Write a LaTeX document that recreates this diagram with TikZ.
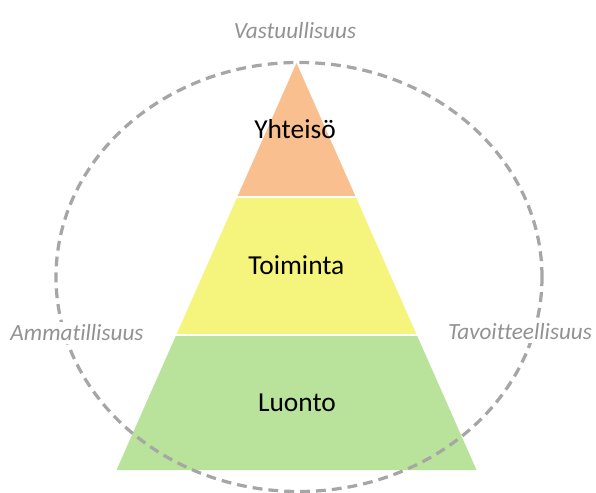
\documentclass[tikz,border=0pt]{standalone}
\usepackage{fontspec}
\setmainfont{Carlito}[Ligatures=NoCommon]
\definecolor{yhteisoorange}{HTML}{FABF8F}
\definecolor{toimintayellow}{HTML}{F5F57E}
\definecolor{luontogreen}{HTML}{B9E39A}
\definecolor{ringgray}{HTML}{A6A6A6}
\definecolor{sidegray}{HTML}{929292}

\begin{document}
\begin{tikzpicture}[
    ringline/.style={draw=ringgray,line width=2.3pt,dash pattern=on 7pt off 4.3pt},
    levellabel/.style={anchor=base,inner sep=0,font=\levelfontsize},
    sidelabel/.style={anchor=base,inner sep=2pt,fill=white,text=sidegray,font=\sidefontsize\itshape}]
    \pgfmathsetmacro{\pyrcenter}{7.4125}
    \pgfmathsetmacro{\pyrbase}{0.55}
    \pgfmathsetmacro{\pyrtop}{10.725}
    \pgfmathsetmacro{\pyrhalfwidth}{4.5}
    \pgfmathsetmacro{\firstcut}{3.925}
    \pgfmathsetmacro{\secondcut}{7.375}
    \pgfmathsetmacro{\firsthalf}{\pyrhalfwidth*(\pyrtop-\firstcut)/(\pyrtop-\pyrbase)}
    \pgfmathsetmacro{\secondhalf}{\pyrhalfwidth*(\pyrtop-\secondcut)/(\pyrtop-\pyrbase)}
    \providecommand{\levelfontsize}{\fontsize{19.5pt}{23pt}\selectfont}
    \providecommand{\sidefontsize}{\fontsize{16.5pt}{20pt}\selectfont}
    \useasboundingbox (0,0) rectangle (14.9,12.3);
    % pyramid layers
    \fill[luontogreen] (\pyrcenter-\pyrhalfwidth,\pyrbase) -- (\pyrcenter+\pyrhalfwidth,\pyrbase) -- (\pyrcenter+\firsthalf,\firstcut) -- (\pyrcenter-\firsthalf,\firstcut) -- cycle;
    \fill[toimintayellow] (\pyrcenter-\firsthalf,\firstcut) -- (\pyrcenter+\firsthalf,\firstcut) -- (\pyrcenter+\secondhalf,\secondcut) -- (\pyrcenter-\secondhalf,\secondcut) -- cycle;
    \fill[yhteisoorange] (\pyrcenter-\secondhalf,\secondcut) -- (\pyrcenter+\secondhalf,\secondcut) -- (\pyrcenter,\pyrtop) -- cycle;
    \draw[white,line width=1.6pt] (\pyrcenter-\firsthalf-0.2,\firstcut) -- (\pyrcenter+\firsthalf+0.2,\firstcut);
    \draw[white,line width=1.6pt] (\pyrcenter-\secondhalf-0.2,\secondcut) -- (\pyrcenter+\secondhalf+0.2,\secondcut);
    % dashed ring
    \draw[ringline] (7.475,5.375) ellipse [x radius=6.075,y radius=5.3625];
    \node[levellabel](yhteiso) at (7.375,8.825){Yhteisö};
    \node[levellabel](toiminta) at (7.41,5.425){Toiminta};
    \node[levellabel](luonto) at (7.425,2.0){Luonto};
    \node[sidelabel](vastuu) at (7.375,11.325){Vastuullisuus};
    \node[sidelabel](ammatti) at (1.925,3.775){Ammatillisuus};
    \node[sidelabel](tavoite) at (13.0,3.8){Tavoitteellisuus};
\end{tikzpicture}
\end{document}
